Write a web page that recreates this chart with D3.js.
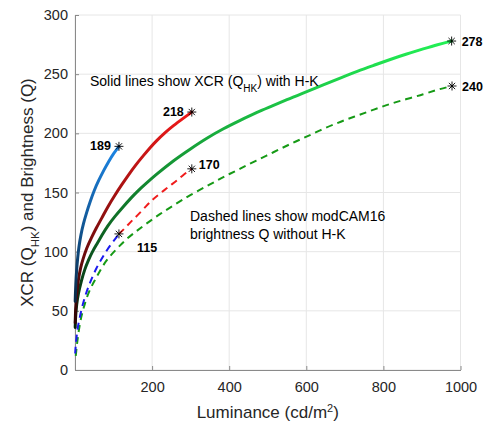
<!DOCTYPE html>
<html>
<head>
<meta charset="utf-8">
<script src="https://cdn.jsdelivr.net/npm/d3@7"></script>
<style>
  html, body { margin: 0; padding: 0; background: #fff; }
  svg { display: block; font-family: Arial, "Liberation Sans", Helvetica, sans-serif; }
</style>
</head>
<body>
<div id="chart"></div>
<script>
// values: [luminance cd/m2, Q]
const blueSolid = [[0.5, 58], [1, 64], [2, 72], [4, 84], [7, 95], [10, 104], [15, 114], [22, 124], [30, 133], [39, 142], [50, 152], [61, 160], [75, 169], [87, 176], [100, 183], [114, 189]];
const redSolid = [[0.5, 40], [1, 46], [2, 54], [4, 63], [7, 72], [10, 79], [15, 87], [20, 93], [30, 103], [43, 112], [55, 120], [69, 128], [85, 138], [104, 148], [120, 156], [139, 165], [158, 173.5], [177, 181], [195, 188], [212, 194], [233, 200.5], [255, 206.5], [280, 212.5], [303, 218]];
const greenSolid = [[0.5, 36], [1, 41], [2, 47], [4, 55], [8, 64], [17, 76], [25, 85], [35, 93], [45, 100], [56, 106], [70, 114], [85, 122], [104, 130], [125, 138], [147, 146], [165, 152], [182, 157], [210, 165], [255, 177], [300, 187], [342, 196], [385, 204], [429, 211], [470, 217.5], [515, 223.5], [550, 228.5], [584, 233], [645, 241], [690, 247], [732, 252.5], [775, 257.5], [818, 262.5], [860, 267], [905, 271.5], [940, 275], [977, 278]];

const blueDashed = [[0.5, 14], [1, 17], [2, 21], [4, 28], [7, 36], [12, 44], [18, 53], [25, 61], [33, 69], [43, 77], [55, 86], [69, 94], [82, 101], [95, 107], [105, 111], [114, 115]];
const redDashed = [[114, 115], [130, 120], [147, 126], [166, 132], [186, 139], [201, 144], [216, 148], [232, 152], [247, 156], [264, 160], [281, 165], [303, 170]];
const greenDashed = [[2, 12], [5, 22], [10, 34], [16, 45], [22, 52], [30, 61], [40, 69], [50, 75], [60, 81], [72, 88], [87, 95], [110, 103], [134, 111], [158, 117], [182, 123], [221, 132], [255, 139], [299, 148], [351, 157], [390, 164], [428, 170], [470, 177], [515, 184], [558, 191], [600, 197], [645, 204], [690, 210], [732, 215], [775, 220], [818, 225], [860, 229], [905, 233], [940, 237], [978, 240]];

const xTicks = [200, 400, 600, 800, 1000];
const xGrid = [0, 200, 400, 600, 800, 1000];
const yTicks = [0, 50, 100, 150, 200, 250, 300];

const width = 487;
const height = 424;
const margin = { top: 15, right: 26.5, bottom: 54, left: 75 };

const svg = d3.select('#chart').append('svg')
  .attr('width', width)
  .attr('height', height);

const x = d3.scaleLinear().domain([0, 1000]).range([margin.left, width - margin.right]);
const y = d3.scaleLinear().domain([0, 300]).range([height - margin.bottom, margin.top]);

// grid
const grid = svg.append('g');
grid.selectAll('.gx').data(xGrid).enter().append('line')
  .attr('x1', d => x(d)).attr('x2', d => x(d))
  .attr('y1', y(0)).attr('y2', y(300))
  .attr('stroke', '#e6e6e6').attr('stroke-width', 1);
grid.selectAll('.gy').data(yTicks).enter().append('line')
  .attr('x1', x(0)).attr('x2', x(1000))
  .attr('y1', d => y(d)).attr('y2', d => y(d))
  .attr('stroke', '#e6e6e6').attr('stroke-width', 1);

// axes
const xAxis = svg.append('g')
  .attr('transform', `translate(0,${y(0)})`)
  .call(d3.axisBottom(x).tickValues(xTicks).tickFormat(d3.format('d')).tickSizeInner(-4).tickSizeOuter(0).tickPadding(12));
const yAxis = svg.append('g')
  .attr('transform', `translate(${x(0)},0)`)
  .call(d3.axisLeft(y).tickValues(yTicks).tickSizeInner(-4).tickSizeOuter(0).tickPadding(7));

[xAxis, yAxis].forEach(ax => {
  ax.select('.domain').attr('stroke', '#8a8a8a').attr('stroke-width', 1);
  ax.selectAll('.tick line').attr('stroke', '#8a8a8a');
  ax.selectAll('.tick text').attr('fill', '#262626').style('font-size', '14.5px');
});

// axis labels
const xLab = svg.append('text')
  .attr('x', x(500)).attr('y', 418)
  .attr('text-anchor', 'middle')
  .attr('fill', '#262626')
  .style('font-size', '17px');
xLab.append('tspan').text('Luminance (cd/m');
xLab.append('tspan').attr('baseline-shift', 'super').style('font-size', '11px').text('2');
xLab.append('tspan').text(')');

const yLab = svg.append('text')
  .attr('transform', `translate(33,${(y(0) + y(300)) / 2}) rotate(-90)`)
  .attr('text-anchor', 'middle')
  .attr('fill', '#262626')
  .style('font-size', '17px');
yLab.append('tspan').text('XCR (Q');
yLab.append('tspan').attr('baseline-shift', 'sub').style('font-size', '11.5px').text('HK');
yLab.append('tspan').text(') and Brightness (Q)');

// lines
const line = d3.line()
  .x(d => x(d[0]))
  .y(d => y(d[1]))
  .curve(d3.curveBasis);

const defs = svg.append('defs');
function gradient(id, color) {
  const g = defs.append('linearGradient')
    .attr('id', id)
    .attr('gradientUnits', 'userSpaceOnUse')
    .attr('x1', 0).attr('x2', 0)
    .attr('y1', y(0)).attr('y2', y(color.top));
  g.append('stop').attr('offset', 0).attr('stop-color', '#000');
  g.append('stop').attr('offset', 1).attr('stop-color', color.c);
}

const dashed = [
  { data: greenDashed, color: '#169a16' },
  { data: redDashed, color: '#f01c1c' },
  { data: blueDashed, color: '#1a1aee' }
];
dashed.forEach(s => {
  svg.append('path')
    .datum(s.data)
    .attr('d', line)
    .attr('fill', 'none')
    .attr('stroke', s.color)
    .attr('stroke-width', 2)
    .attr('stroke-dasharray', '7,5');
});

const solid = [
  { id: 'gG', data: greenSolid, c: '#22f055' },
  { id: 'gR', data: redSolid, c: '#f01a1a' },
  { id: 'gB', data: blueSolid, c: '#1c86e6' }
];
solid.forEach(s => {
  gradient(s.id, { c: s.c, top: d3.max(s.data, d => d[1]) });
  svg.append('path')
    .datum(s.data)
    .attr('d', line)
    .attr('fill', 'none')
    .attr('stroke', `url(#${s.id})`)
    .attr('stroke-width', 3)
    .attr('stroke-linecap', 'round');
});

// end markers and value labels
const ends = [
  { p: blueSolid[blueSolid.length - 1], dx: -8, dy: 4, anchor: 'end' },
  { p: redSolid[redSolid.length - 1], dx: -8, dy: 4, anchor: 'end' },
  { p: greenSolid[greenSolid.length - 1], dx: 10, dy: 5, anchor: 'start' },
  { p: blueDashed[blueDashed.length - 1], dx: 18, dy: 18, anchor: 'start' },
  { p: redDashed[redDashed.length - 1], dx: 7, dy: 0, anchor: 'start' },
  { p: greenDashed[greenDashed.length - 1], dx: 10, dy: 5, anchor: 'start' }
];
const star = svg.append('g');
ends.forEach(e => {
  const cx = x(e.p[0]);
  const cy = y(e.p[1]);
  const r = 4.5;
  const a = r * 0.7;
  const path = `M${cx},${cy - r}L${cx},${cy + r}M${cx - r},${cy}L${cx + r},${cy}` +
    `M${cx - a},${cy - a}L${cx + a},${cy + a}M${cx - a},${cy + a}L${cx + a},${cy - a}`;
  star.append('path').attr('d', path).attr('stroke', '#000').attr('stroke-width', 0.9).attr('fill', 'none');
  svg.append('text')
    .attr('x', cx + e.dx).attr('y', cy + e.dy)
    .attr('text-anchor', e.anchor)
    .attr('fill', '#000')
    .style('font-size', '12.5px')
    .style('font-weight', 'bold')
    .text(e.p[1]);
});

// notes
const note1 = svg.append('text')
  .attr('x', 90).attr('y', 86)
  .attr('fill', '#000')
  .style('font-size', '14px');
note1.append('tspan').text('Solid lines show XCR (Q');
note1.append('tspan').attr('baseline-shift', 'sub').style('font-size', '10px').text('HK');
note1.append('tspan').text(') with H-K');

svg.append('text')
  .attr('x', 190).attr('y', 221)
  .attr('fill', '#000')
  .style('font-size', '14px')
  .text('Dashed lines show modCAM16');
svg.append('text')
  .attr('x', 190).attr('y', 239)
  .attr('fill', '#000')
  .style('font-size', '14px')
  .text('brightness Q without H-K');
</script>
</body>
</html>
